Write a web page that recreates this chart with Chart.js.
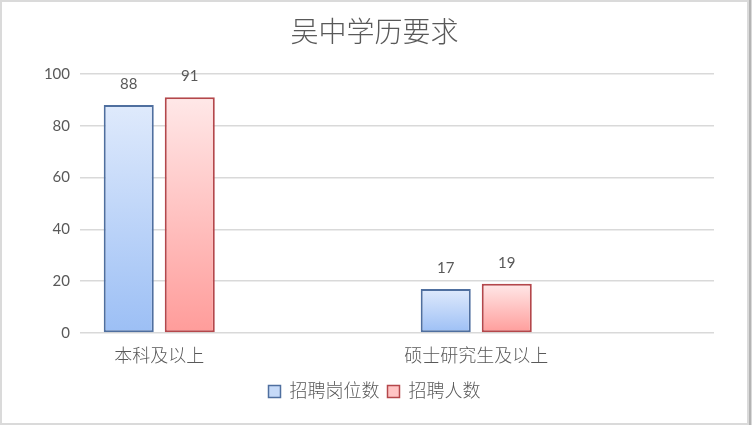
<!DOCTYPE html>
<html>
<head>
<meta charset="utf-8">
<script src="https://cdn.jsdelivr.net/npm/chart.js@4/dist/chart.umd.min.js"></script>
<style>
  html, body { margin: 0; padding: 0; }
  body { width: 752px; height: 425px; background: #dadada; position: relative; overflow: hidden; }
  #frame { position: absolute; left: 2px; top: 2px; width: 745px; height: 421px; background: #ffffff; }
  #edge { position: absolute; left: 749px; top: 0; width: 2px; height: 425px; background: #b4b4b4; }
  canvas { display: block; }
</style>
</head>
<body>
<div id="frame"><canvas id="chart" width="745" height="421"></canvas></div>
<div id="edge"></div>
<script>
// Categories (blank slots keep the two groups spaced apart)
const categories = ['本科及以上', '', '硕士研究生及以上', ''];
const seriesNames = ['招聘岗位数', '招聘人数'];
const positions = [88, null, 17, null];   // 招聘岗位数
const applicants = [91, null, 19, null];  // 招聘人数
const yTicks = [0, 20, 40, 60, 80, 100];

const TEXT = '#595959';
const FONT = "Lato, 'Noto Sans CJK SC', sans-serif";

const styles = [
  { top: '#dfeafc', bottom: '#9cbff5', border: '#4f6f9f', legend: '#c6daf8' },
  { top: '#ffe8e8', bottom: '#ff9c9a', border: '#b4474b', legend: '#ffc4c4' }
];

// Vertical gradient for each bar, running from its top down to the zero line
function barFill(idx) {
  return function (ctx) {
    const chart = ctx.chart;
    const st = styles[idx];
    if (ctx.type !== 'data' || !chart.chartArea || ctx.parsed == null) return st.legend;
    const y = chart.scales.y;
    const top = y.getPixelForValue(ctx.parsed.y);
    const bottom = y.getPixelForValue(0);
    if (!isFinite(top) || top === bottom) return st.legend;
    const g = chart.ctx.createLinearGradient(0, top, 0, bottom);
    g.addColorStop(0, st.top);
    g.addColorStop(1, st.bottom);
    return g;
  };
}

// Value labels above each bar
const valueLabels = {
  id: 'valueLabels',
  afterDatasetsDraw(chart) {
    const c = chart.ctx;
    c.save();
    c.font = "15px " + FONT;
    c.fillStyle = TEXT;
    c.textAlign = 'center';
    c.textBaseline = 'alphabetic';
    chart.data.datasets.forEach((ds, i) => {
      chart.getDatasetMeta(i).data.forEach((el, j) => {
        const v = ds.data[j];
        if (v == null) return;
        c.fillText(String(v), el.x, el.y - 16);
      });
    });
    c.restore();
  }
};

const barOpts = {
  borderWidth: 2,
  borderSkipped: false,
  categoryPercentage: 0.77,
  barPercentage: 0.82
};

new Chart(document.getElementById('chart'), {
  type: 'bar',
  data: {
    labels: categories,
    datasets: [
      Object.assign({
        label: seriesNames[0],
        data: positions,
        backgroundColor: barFill(0),
        borderColor: styles[0].border
      }, barOpts),
      Object.assign({
        label: seriesNames[1],
        data: applicants,
        backgroundColor: barFill(1),
        borderColor: styles[1].border
      }, barOpts)
    ]
  },
  options: {
    responsive: false,
    animation: false,
    layout: { padding: { left: 0, right: 0, top: 0, bottom: 12.5 } },
    plugins: {
      title: {
        display: true,
        text: '吴中学历要求',
        color: TEXT,
        font: { family: FONT, size: 28, weight: '300', lineHeight: 1.2 },
        padding: { top: 14, bottom: 24.4 }
      },
      legend: {
        position: 'bottom',
        labels: {
          color: TEXT,
          font: { family: FONT, size: 18, weight: '300' },
          boxWidth: 12,
          boxHeight: 12,
          padding: 8,
          generateLabels(chart) {
            return chart.data.datasets.map((ds, i) => ({
              text: ds.label,
              fillStyle: styles[i].legend,
              strokeStyle: styles[i].border,
              lineWidth: 1.5,
              fontColor: TEXT,
              datasetIndex: i,
              hidden: false
            }));
          }
        }
      },
      tooltip: { enabled: false }
    },
    scales: {
      x: {
        grid: { display: false, drawTicks: false },
        border: { display: false },
        ticks: {
          color: TEXT,
          font: { family: FONT, size: 18, weight: '300' },
          padding: 12,
          maxRotation: 0,
          autoSkip: false
        },
        afterFit(scale) { scale.height = 41.5; }
      },
      y: {
        min: 0,
        max: 100,
        afterBuildTicks(scale) { scale.ticks = yTicks.map(v => ({ value: v })); },
        grid: { color: '#d9d9d9', lineWidth: 1.5, drawTicks: false },
        border: { display: false },
        ticks: {
          color: TEXT,
          font: { family: FONT, size: 15 },
          padding: 10
        },
        afterFit(scale) { scale.width = 78; }
      },
      // empty margin on the right of the plot
      yRight: {
        type: 'linear',
        position: 'right',
        grid: { display: false, drawTicks: false },
        border: { display: false },
        ticks: { display: false },
        afterFit(scale) { scale.width = 33; }
      }
    }
  },
  plugins: [valueLabels]
});
</script>
</body>
</html>
